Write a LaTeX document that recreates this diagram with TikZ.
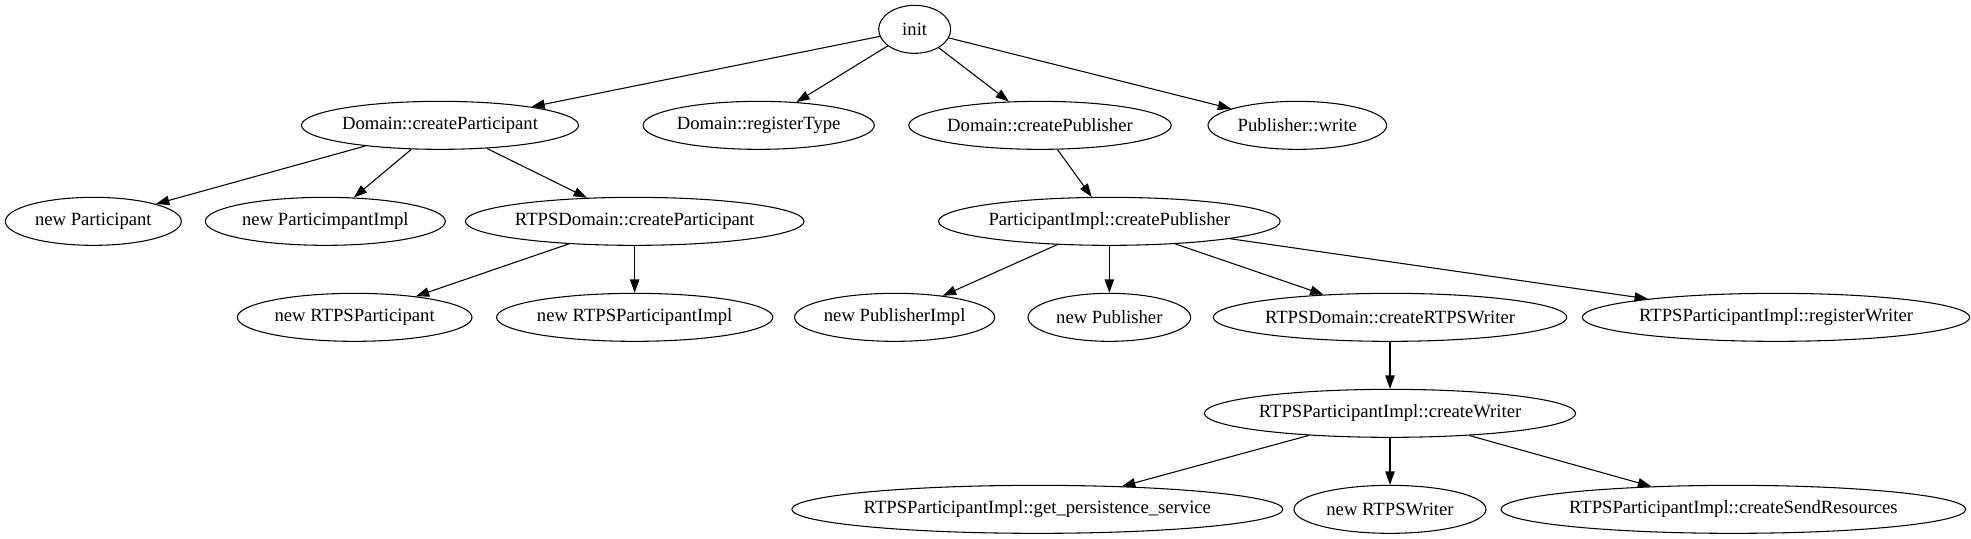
\documentclass[tikz,border=0pt]{standalone}
\usepackage{fontspec}
\setmainfont{Liberation Serif}
\usetikzlibrary{arrows.meta,shapes.geometric}
\begin{document}
\begin{tikzpicture}[x=1pt,y=1pt,
  nd/.style={draw, ellipse, line width=0.8pt, inner sep=0pt, minimum height=36pt, font=\fontsize{14}{16}\selectfont},
  ed/.style={line width=0.8pt, -{Triangle[length=10pt,width=7pt]}}]
\useasboundingbox (0,0) rectangle (1478.25,-404.25);
\node[nd, minimum width=54pt]  (init)  at (686,-22)  {init};
\node[nd, minimum width=207pt] (dcp)   at (330,-94)  {Domain::createParticipant};
\node[nd, minimum width=152pt] (drt)   at (569,-94)  {Domain::registerType};
\node[nd, minimum width=180pt] (dcpub) at (780,-94)  {Domain::createPublisher};
\node[nd, minimum width=134pt] (pw)    at (973,-94)  {Publisher::write};
\node[nd, minimum width=132pt] (np)    at (70,-166)  {new Participant};
\node[nd, minimum width=180pt] (npi)   at (244,-166) {new ParticimpantImpl};
\node[nd, minimum width=250pt] (rcp)   at (476,-166) {RTPSDomain::createParticipant};
\node[nd, minimum width=250pt] (picp)  at (832,-166) {ParticipantImpl::createPublisher};
\node[nd, minimum width=176pt] (nrp)   at (266,-238) {new RTPSParticipant};
\node[nd, minimum width=206pt] (nrpi)  at (476,-238) {new RTPSParticipantImpl};
\node[nd, minimum width=146pt] (npubi) at (671,-238) {new PublisherImpl};
\node[nd, minimum width=122pt] (npub)  at (832,-238) {new Publisher};
\node[nd, minimum width=260pt] (rcrw)  at (1042.5,-238) {RTPSDomain::createRTPSWriter};
\node[nd, minimum width=284pt] (rpirw) at (1332,-238) {RTPSParticipantImpl::registerWriter};
\node[nd, minimum width=274pt] (rpicw) at (1042.5,-310) {RTPSParticipantImpl::createWriter};
\node[nd, minimum width=350pt] (gps)   at (778,-382) {RTPSParticipantImpl::get\_persistence\_service};
\node[nd, minimum width=144pt] (nrw)   at (1042.5,-382) {new RTPSWriter};
\node[nd, minimum width=332pt] (csr)   at (1300,-382) {RTPSParticipantImpl::createSendResources};
\draw[ed] (init) -- (dcp);
\draw[ed] (init) -- (drt);
\draw[ed] (init) -- (dcpub);
\draw[ed] (init) -- (pw);
\draw[ed] (dcp) -- (np);
\draw[ed] (dcp) -- (npi);
\draw[ed] (dcp) -- (rcp);
\draw[ed] (rcp) -- (nrp);
\draw[ed] (rcp) -- (nrpi);
\draw[ed] (dcpub) -- (picp);
\draw[ed] (picp) -- (npubi);
\draw[ed] (picp) -- (npub);
\draw[ed] (picp) -- (rcrw);
\draw[ed] (picp) -- (rpirw);
\draw[ed] (rcrw) -- (rpicw);
\draw[ed] (rpicw) -- (gps);
\draw[ed] (rpicw) -- (nrw);
\draw[ed] (rpicw) -- (csr);
\end{tikzpicture}
\end{document}
